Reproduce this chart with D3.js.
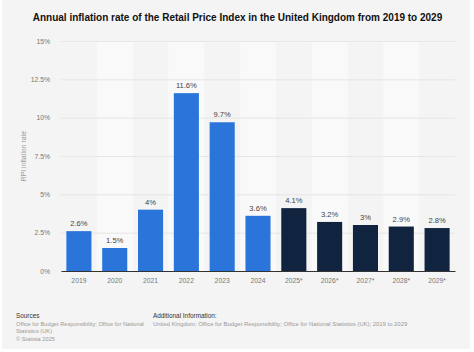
<!DOCTYPE html>
<html>
<head>
<meta charset="utf-8">
<script src="https://cdn.jsdelivr.net/npm/d3@7"></script>
<style>
  body { margin: 0; background: #fff; }
  svg { display: block; font-family: "Liberation Sans", Arial, sans-serif; }
</style>
</head>
<body>
<div id="chart"></div>
<script>
var years = ['2019', '2020', '2021', '2022', '2023', '2024', '2025*', '2026*', '2027*', '2028*', '2029*']
var rates = [2.6, 1.5, 4, 11.6, 9.7, 3.6, 4.1, 3.2, 3, 2.9, 2.8]
var valueLabels = ['2.6%', '1.5%', '4%', '11.6%', '9.7%', '3.6%', '4.1%', '3.2%', '3%', '2.9%', '2.8%']
var yTicks = [0, 2.5, 5, 7.5, 10, 12.5, 15]
var yTickLabels = ['0%', '2.5%', '5%', '7.5%', '10%', '12.5%', '15%']

var W = 474, H = 352
var margin = { top: 41, right: 19, bottom: 81, left: 61 }
var w = W - margin.left - margin.right
var h = H - margin.top - margin.bottom

var svg = d3.select('#chart').append('svg')
  .attr('width', W)
  .attr('height', H)

// card background
svg.append('rect')
  .attr('x', 2).attr('y', 0)
  .attr('width', W - 6).attr('height', H - 3)
  .attr('fill', '#f4f4f4')

svg.append('text')
  .attr('x', W / 2 + 0.5)
  .attr('y', 21)
  .attr('text-anchor', 'middle')
  .attr('font-size', 10)
  .attr('font-weight', 'bold')
  .attr('fill', '#111')
  .text('Annual inflation rate of the Retail Price Index in the United Kingdom from 2019 to 2029')

var g = svg.append('g')
  .attr('transform', 'translate(' + margin.left + ',' + margin.top + ')')

var x = d3.scaleBand()
  .domain(years)
  .range([0, w])
  .paddingInner(0.3)
  .paddingOuter(0.15)

var y = d3.scaleLinear()
  .domain([0, 15])
  .range([h, 0])

// alternating column shading
g.selectAll('.stripe')
  .data(years.filter(function (d, i) { return i % 2 == 1 }))
  .enter().append('rect')
  .attr('class', 'stripe')
  .attr('x', function (d) { return x(d) - x.step() * x.paddingInner() / 2 })
  .attr('y', 0)
  .attr('width', x.step())
  .attr('height', h)
  .attr('fill', '#f9f9f9')

// gridlines
var yAxis = d3.axisLeft(y)
  .tickValues(yTicks)
  .tickSize(-w)
  .tickFormat(function (d, i) { return yTickLabels[i] })

var yg = g.append('g').call(yAxis)
yg.select('.domain').remove()
yg.selectAll('line').attr('stroke', '#e2e2e2').attr('stroke-width', 0.8)
yg.selectAll('text')
  .attr('x', -11)
  .attr('font-size', 6.8)
  .attr('fill', '#777')
  .attr('font-family', '"Liberation Sans", Arial, sans-serif')

var bars = years.map(function (d, i) { return { year: d, rate: rates[i], label: valueLabels[i], forecast: i >= 6 } })

g.selectAll('.bar')
  .data(bars)
  .enter().append('rect')
  .attr('class', 'bar')
  .attr('x', function (d) { return x(d.year) })
  .attr('y', function (d) { return y(d.rate) })
  .attr('width', x.bandwidth())
  .attr('height', function (d) { return h - y(d.rate) })
  .attr('fill', function (d) { return d.forecast ? '#10233f' : '#2a74da' })

g.selectAll('.vlabel')
  .data(bars)
  .enter().append('text')
  .attr('class', 'vlabel')
  .attr('x', function (d) { return x(d.year) + x.bandwidth() / 2 })
  .attr('y', function (d) { return y(d.rate) - 5 })
  .attr('text-anchor', 'middle')
  .attr('font-size', 7.6)
  .attr('fill', '#444')
  .text(function (d) { return d.label })

// x axis
var xAxis = d3.axisBottom(x).tickSize(0).tickPadding(7)
var xg = g.append('g')
  .attr('transform', 'translate(0,' + h + ')')
  .call(xAxis)
xg.select('.domain').attr('stroke', '#333').attr('stroke-width', 1)
xg.selectAll('text')
  .attr('font-size', 6.8)
  .attr('fill', '#777')
  .attr('font-family', '"Liberation Sans", Arial, sans-serif')

svg.append('text')
  .attr('transform', 'translate(26,' + (margin.top + h / 2) + ') rotate(-90)')
  .attr('text-anchor', 'middle')
  .attr('font-size', 6.8)
  .attr('fill', '#999')
  .text('RPI inflation rate')

// footer
var foot = svg.append('g')
foot.append('text').attr('x', 16).attr('y', 318).attr('font-size', 6.4).attr('fill', '#333').text('Sources')
var srcLines = ['Office for Budget Responsibility; Office for National', 'Statistics (UK)', '\u00a9 Statista 2025']
foot.selectAll('.src')
  .data(srcLines)
  .enter().append('text')
  .attr('x', 16)
  .attr('y', function (d, i) { return 326 + i * 7.3 })
  .attr('font-size', 5.7)
  .attr('fill', '#999')
  .text(function (d) { return d })
foot.append('text').attr('x', 153).attr('y', 318).attr('font-size', 6.4).attr('fill', '#333').text('Additional Information:')
foot.append('text').attr('x', 153).attr('y', 326).attr('font-size', 5.9).attr('fill', '#999')
  .text('United Kingdom; Office for Budget Responsibility; Office for National Statistics (UK); 2019 to 2029')
</script>
</body>
</html>
